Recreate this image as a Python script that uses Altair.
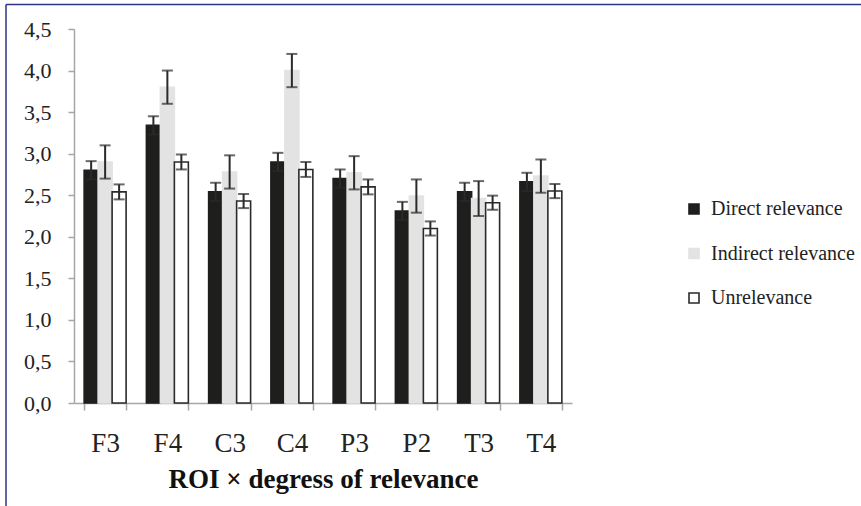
import altair as alt
import pandas as pd

categories = ["F3", "F4", "C3", "C4", "P3", "P2", "T3", "T4"]
conditions = ["Direct relevance", "Indirect relevance", "Unrelevance"]

direct = [2.80, 3.34, 2.54, 2.90, 2.70, 2.31, 2.54, 2.66]
indirect = [2.90, 3.80, 2.78, 4.00, 2.77, 2.49, 2.46, 2.73]
unrel = [2.54, 2.90, 2.43, 2.81, 2.60, 2.10, 2.41, 2.55]

err_direct = [0.11, 0.11, 0.11, 0.11, 0.11, 0.11, 0.11, 0.11]
err_indirect = [0.20, 0.20, 0.20, 0.20, 0.20, 0.20, 0.21, 0.20]
err_unrel = [0.09, 0.09, 0.085, 0.09, 0.09, 0.085, 0.085, 0.085]

y_ticks = [0.0, 0.5, 1.0, 1.5, 2.0, 2.5, 3.0, 3.5, 4.0, 4.5]

rows = []
for cond, vals, errs in zip(conditions, [direct, indirect, unrel],
                            [err_direct, err_indirect, err_unrel]):
    for c, v, e in zip(categories, vals, errs):
        rows.append({"roi": c, "cond": cond, "mean": v, "lo": v - e, "hi": v + e})
df = pd.DataFrame(rows)

FONT = "Liberation Serif"
W, H = 498, 374
PAD_L, PAD_T = 74, 29

x_enc = alt.X(
    "roi:N", sort=categories,
    scale=alt.Scale(paddingInner=0.326, paddingOuter=0.163),
    axis=alt.Axis(
        title="ROI × degress of relevance", labelAngle=0, tickBand="extent",
        labelFont=FONT, labelFontSize=27, labelColor="#222222", labelPadding=20,
        titleFont=FONT, titleFontSize=27, titleFontWeight="bold", titleColor="#111111",
        titlePadding=10, domainColor="#a6a6a6", domainWidth=1.5, tickColor="#a6a6a6",
        tickWidth=1.5, tickSize=7,
    ),
)
xo = alt.XOffset("cond:N", sort=conditions, scale=alt.Scale(paddingInner=0, paddingOuter=0))

legend = alt.Legend(
    title=None, orient="none", legendX=610, legendY=170,
    symbolType="square", symbolSize=100, symbolStrokeWidth=1.6,
    labelFont=FONT, labelFontSize=20, labelColor="#222222",
    labelOffset=7, rowPadding=24.5, padding=0,
)

bars = alt.Chart(df).mark_bar(strokeWidth=1.6).encode(
    x=x_enc,
    xOffset=xo,
    y=alt.Y(
        "mean:Q",
        scale=alt.Scale(domain=[0, 4.5], nice=False),
        axis=alt.Axis(
            title=None, values=y_ticks, grid=False,
            labelExpr="replace(format(datum.value, '.1f'), '.', ',')",
            labelFont=FONT, labelFontSize=22, labelColor="#222222", labelPadding=17,
            domainColor="#a6a6a6", domainWidth=1.5, tickColor="#a6a6a6",
            tickWidth=1.5, tickSize=6,
        ),
    ),
    fill=alt.Fill(
        "cond:N", sort=conditions,
        scale=alt.Scale(domain=conditions, range=["#1e1e1c", "#e3e3e3", "#ffffff"]),
        legend=legend,
    ),
    stroke=alt.Stroke(
        "cond:N", sort=conditions,
        scale=alt.Scale(domain=conditions, range=["#1e1e1c", "#e3e3e3", "#2a2a2a"]),
        legend=legend,
    ),
)

err = alt.Chart(df).mark_rule(color="#2a2a2a", strokeWidth=2).encode(
    x=alt.X("roi:N", sort=categories),
    xOffset=xo,
    y="lo:Q",
    y2="hi:Q",
)
cap_hi = alt.Chart(df).mark_tick(color="#2a2a2a", thickness=2, size=11).encode(
    x=alt.X("roi:N", sort=categories),
    xOffset=xo,
    y="hi:Q",
)
cap_lo = alt.Chart(df).mark_tick(color="#2a2a2a", thickness=2, size=11).encode(
    x=alt.X("roi:N", sort=categories),
    xOffset=xo,
    y="lo:Q",
)

# decorative frame lines (top and left border of the figure box)
frame_top = alt.Chart(pd.DataFrame({"a": [0]})).mark_rule(color="#2e3583", strokeWidth=1.5).encode(
    x=alt.value(6 - PAD_L), x2=alt.value(861 - PAD_L), y=alt.value(4.5 - PAD_T)
)
frame_left = alt.Chart(pd.DataFrame({"a": [0]})).mark_rule(color="#2e3583", strokeWidth=1.5).encode(
    x=alt.value(6 - PAD_L), y=alt.value(4.5 - PAD_T), y2=alt.value(506 - PAD_T)
)

chart = alt.layer(bars, err, cap_hi, cap_lo, frame_top, frame_left).properties(
    width=W, height=H,
    autosize=alt.AutoSizeParams(type="none"),
    padding={"left": PAD_L, "top": PAD_T, "right": 861 - PAD_L - W, "bottom": 506 - PAD_T - H},
    background="white",
).configure(font=FONT).configure_view(stroke=None).configure_legend(
    labelFont=FONT, labelFontSize=20
).configure_axis(labelFont=FONT, titleFont=FONT)

chart.save("out.html", embed_options={"renderer": "svg", "actions": False})
